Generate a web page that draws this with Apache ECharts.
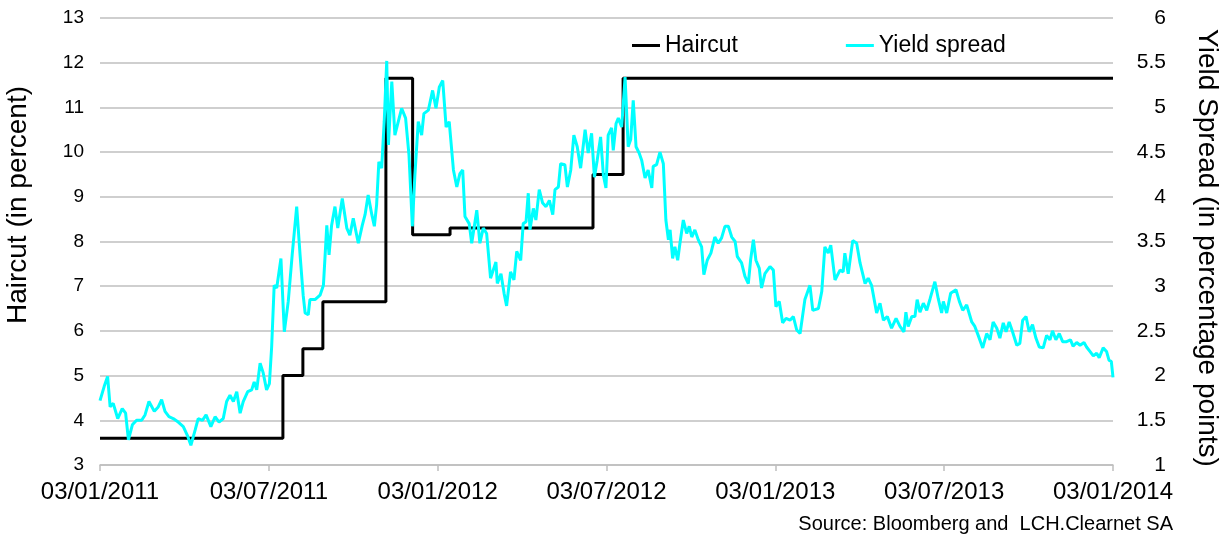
<!DOCTYPE html>
<html>
<head>
<meta charset="utf-8">
<script src="https://cdn.jsdelivr.net/npm/echarts@6/dist/echarts.min.js"></script>
<style>
  html, body { margin: 0; padding: 0; background: #fff; }
  #chart { width: 1228px; height: 537px; }
</style>
</head>
<body>
<div id="chart"></div>
<script>
// x values are months since 03/01/2011
var xTickLabels = ['03/01/2011', '03/07/2011', '03/01/2012', '03/07/2012', '03/01/2013', '03/07/2013', '03/01/2014'];

// haircut (left axis, percent): level changes
var haircutChangeMonths = [0, 6.50, 7.21, 7.92, 10.16, 11.11, 12.44, 17.52, 18.59];
var haircutLevels = [3.6, 5.0, 5.6, 6.65, 11.65, 8.15, 8.3, 9.5, 11.65];
var lastMonth = 36;

// yield spread (right axis, percentage points): [month, value]
var yieldSpread = [
  [0.00,1.72],[0.15,1.88],[0.27,1.99],[0.36,1.65],[0.47,1.69],[0.63,1.52],[0.79,1.63],[0.91,1.58],[1.01,1.28],[1.15,1.45],
  [1.30,1.50],[1.48,1.50],[1.60,1.56],[1.74,1.71],[1.93,1.60],[2.07,1.65],[2.19,1.73],[2.31,1.60],[2.45,1.54],[2.60,1.52],
  [2.78,1.48],[2.96,1.43],[3.12,1.32],[3.23,1.22],[3.38,1.39],[3.49,1.52],[3.64,1.50],[3.77,1.56],[3.94,1.43],[4.09,1.54],
  [4.23,1.48],[4.38,1.52],[4.50,1.71],[4.62,1.78],[4.74,1.71],[4.86,1.82],[4.98,1.58],[5.09,1.71],[5.25,1.82],[5.39,1.84],
  [5.48,1.93],[5.57,1.84],[5.69,2.14],[5.80,2.03],[5.92,1.84],[6.02,1.91],[6.10,2.32],[6.19,3.01],[6.28,2.98],[6.43,3.31],
  [6.55,2.49],[6.69,2.83],[6.83,3.35],[6.99,3.89],[7.11,3.35],[7.22,2.90],[7.29,2.70],[7.40,2.68],[7.46,2.85],[7.64,2.85],
  [7.82,2.90],[7.94,3.01],[8.06,3.68],[8.14,3.35],[8.23,3.68],[8.35,3.89],[8.45,3.65],[8.61,3.98],[8.77,3.65],[8.88,3.57],
  [9.00,3.76],[9.18,3.48],[9.32,3.68],[9.42,3.80],[9.53,4.02],[9.66,3.80],[9.75,3.67],[9.83,3.91],[9.91,4.39],[10.01,4.32],
  [10.10,4.84],[10.19,5.52],[10.25,4.58],[10.37,5.29],[10.48,4.69],[10.60,4.84],[10.72,4.99],[10.86,4.88],[10.98,4.47],[11.10,3.67],
  [11.19,4.24],[11.31,4.84],[11.43,4.69],[11.51,4.93],[11.67,4.97],[11.82,5.19],[11.94,4.99],[12.06,5.23],[12.18,5.30],[12.30,4.78],
  [12.41,4.84],[12.56,4.30],[12.68,4.11],[12.79,4.26],[12.89,4.30],[12.97,3.78],[13.12,3.70],[13.21,3.48],[13.39,3.85],[13.50,3.48],
  [13.62,3.65],[13.74,3.59],[13.88,3.09],[14.07,3.27],[14.12,3.03],[14.25,3.14],[14.36,2.92],[14.45,2.78],[14.59,3.16],[14.71,3.07],
  [14.81,3.39],[14.95,3.29],[15.04,3.70],[15.14,3.72],[15.22,4.04],[15.28,3.63],[15.40,3.87],[15.49,3.74],[15.61,4.08],[15.73,3.93],
  [15.85,3.89],[15.97,3.96],[16.09,3.80],[16.17,4.08],[16.29,4.11],[16.37,4.37],[16.52,4.36],[16.61,4.11],[16.73,4.30],[16.84,4.69],
  [16.96,4.56],[17.08,4.32],[17.24,4.75],[17.35,4.49],[17.47,4.71],[17.57,4.22],[17.67,4.41],[17.79,4.67],[17.89,4.24],[17.98,4.10],
  [18.06,4.69],[18.18,4.77],[18.24,4.52],[18.34,4.82],[18.42,4.88],[18.54,4.78],[18.66,5.34],[18.77,4.56],[18.86,4.64],[18.95,5.08],
  [19.05,4.56],[19.16,4.49],[19.25,4.41],[19.37,4.21],[19.48,4.30],[19.61,4.10],[19.66,4.34],[19.78,4.36],[19.90,4.50],[20.02,4.37],
  [20.11,3.74],[20.20,3.52],[20.26,3.63],[20.35,3.31],[20.43,3.44],[20.53,3.29],[20.61,3.48],[20.73,3.74],[20.85,3.59],[20.94,3.67],
  [21.03,3.55],[21.14,3.63],[21.26,3.52],[21.38,3.44],[21.46,3.13],[21.58,3.29],[21.71,3.37],[21.85,3.55],[21.97,3.48],[22.09,3.54],
  [22.21,3.67],[22.33,3.67],[22.45,3.55],[22.57,3.50],[22.65,3.33],[22.80,3.26],[22.92,3.11],[23.04,3.03],[23.12,3.29],[23.22,3.52],
  [23.31,3.29],[23.43,3.20],[23.51,2.98],[23.63,3.14],[23.81,3.22],[23.93,3.18],[24.02,2.77],[24.14,2.83],[24.26,2.59],[24.38,2.64],
  [24.52,2.62],[24.64,2.66],[24.76,2.51],[24.88,2.47],[25.05,2.85],[25.23,3.01],[25.33,2.73],[25.53,2.75],[25.65,2.94],[25.76,3.44],
  [25.88,3.37],[25.97,3.46],[26.12,3.07],[26.30,3.18],[26.41,3.16],[26.47,3.37],[26.59,3.14],[26.75,3.51],[26.89,3.48],[27.01,3.26],
  [27.19,3.03],[27.30,3.09],[27.42,3.01],[27.60,2.70],[27.72,2.81],[27.84,2.62],[27.98,2.66],[28.13,2.53],[28.29,2.64],[28.43,2.55],
  [28.57,2.49],[28.64,2.71],[28.72,2.55],[28.85,2.66],[28.96,2.66],[29.04,2.85],[29.14,2.71],[29.26,2.81],[29.38,2.73],[29.50,2.86],
  [29.67,3.05],[29.79,2.86],[29.91,2.70],[29.97,2.83],[30.09,2.70],[30.23,2.92],[30.42,2.96],[30.54,2.83],[30.66,2.73],[30.80,2.79],
  [30.98,2.60],[31.09,2.55],[31.21,2.45],[31.37,2.31],[31.51,2.47],[31.63,2.40],[31.74,2.60],[31.87,2.53],[31.98,2.42],[32.10,2.59],
  [32.20,2.49],[32.31,2.60],[32.43,2.49],[32.58,2.34],[32.69,2.36],[32.79,2.62],[32.91,2.66],[33.02,2.49],[33.14,2.57],[33.26,2.42],
  [33.38,2.32],[33.52,2.31],[33.64,2.45],[33.76,2.40],[33.85,2.50],[33.97,2.40],[34.09,2.47],[34.21,2.38],[34.35,2.38],[34.49,2.40],
  [34.58,2.33],[34.71,2.37],[34.83,2.34],[34.97,2.37],[35.06,2.32],[35.18,2.27],[35.30,2.22],[35.42,2.25],[35.51,2.20],[35.65,2.31],
  [35.77,2.27],[35.86,2.17],[35.94,2.16],[36.00,1.98]
];

// step points for haircut
var haircutLine = [];
for (var i = 0; i < haircutLevels.length; i++) {
  var next = i + 1 < haircutChangeMonths.length ? haircutChangeMonths[i + 1] : lastMonth;
  haircutLine.push([haircutChangeMonths[i], haircutLevels[i]]);
  haircutLine.push([next, haircutLevels[i]]);
}

var FONT = 'Liberation Sans, Arial, sans-serif';

var chart = echarts.init(document.getElementById('chart'), null, { renderer: 'canvas' });
chart.setOption({
  animation: false,
  backgroundColor: '#fff',
  textStyle: { fontFamily: FONT, color: '#000' },
  grid: { left: 100, right: 115, top: 18, bottom: 72, containLabel: false },
  legend: {
    left: 627, top: 29,
    itemGap: 108, itemWidth: 28, itemHeight: 3,
    icon: 'rect',
    textStyle: { fontSize: 23, fontFamily: FONT, color: '#000' },
    data: ['Haircut', 'Yield spread']
  },
  xAxis: {
    type: 'value', min: 0, max: lastMonth, interval: 6,
    axisLine: { lineStyle: { color: '#BFBFBF', width: 1.5 } },
    axisTick: { show: true, length: 6, lineStyle: { color: '#BFBFBF', width: 1.5 } },
    splitLine: { show: false },
    axisLabel: {
      margin: 15, fontSize: 24, color: '#000',
      formatter: function (v) { return xTickLabels[Math.round(v / 6)]; }
    }
  },
  yAxis: [{
    type: 'value', min: 3, max: 13, interval: 1,
    axisLine: { show: false }, axisTick: { show: false },
    splitLine: { lineStyle: { color: '#BFBFBF', width: 1.5 } },
    axisLabel: { margin: 16, fontSize: 19, color: '#000' }
  }, {
    type: 'value', min: 1, max: 6, interval: 0.5, position: 'right',
    axisLine: { show: false }, axisTick: { show: false },
    splitLine: { show: false },
    axisLabel: { margin: 53, align: 'right', fontSize: 21, color: '#000' }
  }],
  graphic: [{
    type: 'text', x: 18, y: 205, rotation: Math.PI / 2,
    style: { text: 'Haircut (in percent)', align: 'center', verticalAlign: 'middle', font: '28px ' + FONT, fill: '#000' }
  }, {
    type: 'text', x: 1207, y: 248, rotation: -Math.PI / 2,
    style: { text: 'Yield Spread (in percentage points)', align: 'center', verticalAlign: 'middle', font: '28px ' + FONT, fill: '#000' }
  }, {
    type: 'text', x: 1173, y: 524,
    style: { text: 'Source: Bloomberg and  LCH.Clearnet SA', align: 'right', verticalAlign: 'middle', font: '20px ' + FONT, fill: '#000' }
  }],
  series: [{
    name: 'Haircut', type: 'line', yAxisIndex: 0,
    data: haircutLine, showSymbol: false, symbol: 'none',
    lineStyle: { color: '#000', width: 3 }, itemStyle: { color: '#000' }
  }, {
    name: 'Yield spread', type: 'line', yAxisIndex: 1,
    data: yieldSpread, showSymbol: false, symbol: 'none',
    lineStyle: { color: '#00FFFF', width: 3 }, itemStyle: { color: '#00FFFF' }
  }]
});
</script>
</body>
</html>
